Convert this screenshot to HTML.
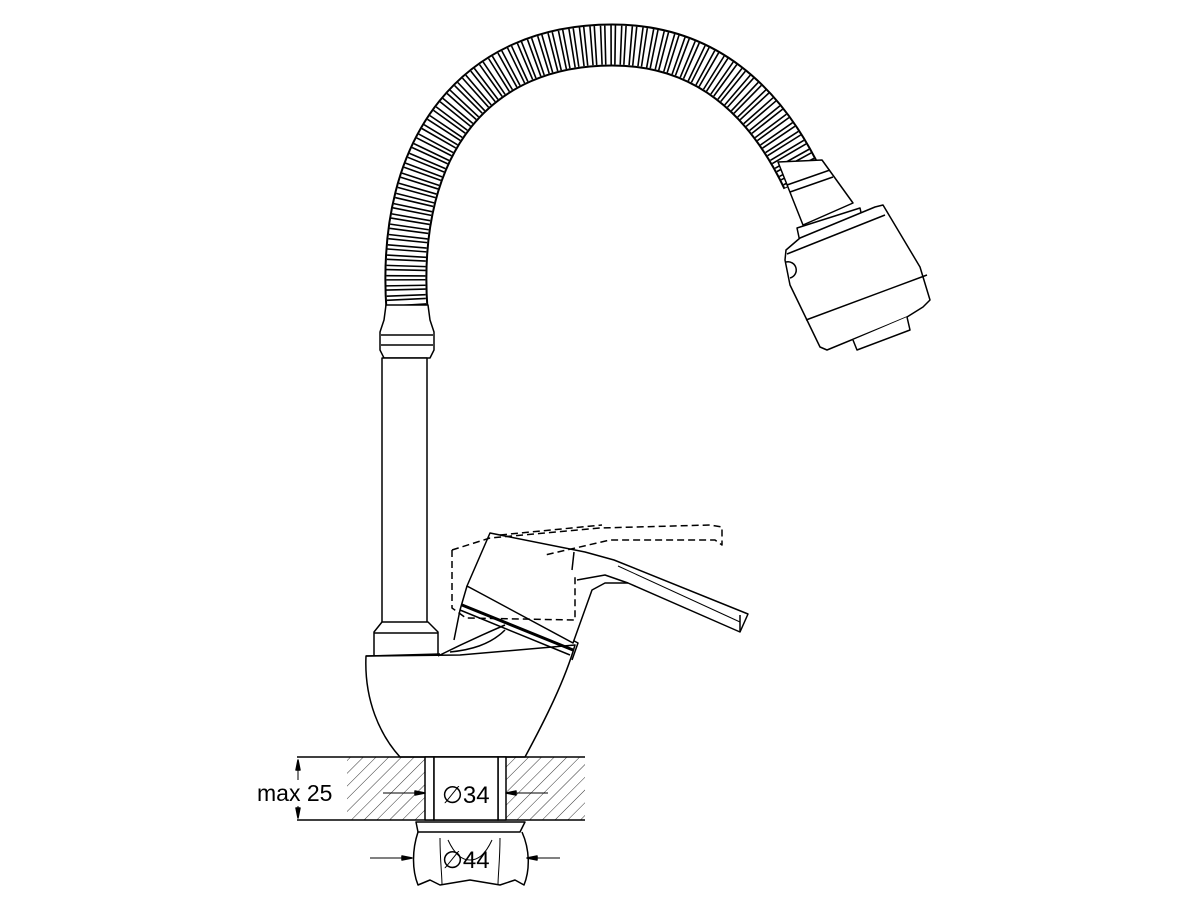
<!DOCTYPE html>
<html><head><meta charset="utf-8"><style>
html,body{margin:0;padding:0;background:#fff;width:1200px;height:900px;overflow:hidden}
svg{display:block}
text{font-family:"Liberation Sans",sans-serif;fill:#000}
</style></head><body>
<svg width="1200" height="900" viewBox="0 0 1200 900" xmlns="http://www.w3.org/2000/svg">
<defs>
<pattern id="hatch" patternUnits="userSpaceOnUse" width="9" height="9" patternTransform="rotate(45)">
<line x1="0" y1="0" x2="0" y2="9" stroke="#000" stroke-width="0.8"/>
</pattern>
</defs>
<g fill="none" stroke="#000" stroke-width="1.5" stroke-linejoin="round">
<path d="M407,310 C395,140 480,45 612,45 C705,45 765,100 803,180" stroke-width="43"/>
<path d="M407,310 C395,140 480,45 612,45 C705,45 765,100 803,180" stroke="#fff" stroke-width="39"/>
<path d="M407,310 C395,140 480,45 612,45 C705,45 765,100 803,180" stroke-width="39" stroke-dasharray="1.6 2.4 1.6 4.2"/>
<path d="M386,305 L428,305 L430,320 L434,332 L434,350 L430,358 L384,358 L380,350 L380,332 L384,320 Z" fill="#fff"/>
<line x1="381" y1="335" x2="433" y2="335"/><line x1="381" y1="345" x2="433" y2="345"/>
<rect x="382" y="358" width="45" height="265" fill="#fff"/>
<path d="M382,622 L374,632 L374,656 L438,656 L438,632 L428,622 Z" fill="#fff"/>
<line x1="374" y1="633" x2="438" y2="633"/>
<path d="M366,656 C364,700 380,735 400,757 L525,757 C545,720 565,680 575,645 L460,655 Z" fill="#fff"/>
<path d="M438,656 C450,650 470,640 505,625" />
<path d="M450,652 C470,650 490,645 505,630"/>
<path d="M366,656 L440,654"/>
<path d="M467,586 L460,610 L454,640 M467,586 L578,643 L572,660 M460,610 L570,655" />
<path d="M462,605 L573,650" stroke-width="3"/>
<path d="M490,533 L467,586 L573,643 L592,590 L605,583 L628,583 L740,632 L748,614 L614,560 L585,552 Z" fill="#fff"/>
<path d="M577,580 L605,575 L628,583"/>
<path d="M574,552 L572,570"/>
<path d="M618,566 L740,622" stroke-width="1"/>
<line x1="740" y1="615" x2="740" y2="632"/>
<g stroke-dasharray="7 4">
<path d="M452,550 L452,608 L466,618 L575,620 L575,575"/>
<path d="M452,550 L490,538 L600,528 L710,525 L722,527 L722,545 L715,540 L610,540 L545,555"/>
<path d="M500,535 L602,525"/>
</g>
<path d="M778,162 L803,225 L853,203 L822,160 Z" fill="#fff"/>
<line x1="787" y1="185" x2="830" y2="170"/><line x1="790" y1="192" x2="833" y2="177"/>
<path d="M797,228 L800,242 L862,217 L860,208 Z" fill="#fff"/>
<path d="M785,260 L786,250 L800,238 L875,207 L883,205 L920,267 L930,300 L923,307 L907,317 L827,350 L820,347 L790,285 Z" fill="#fff"/>
<path d="M787,254 L885,215"/>
<path d="M806,320 L927,275"/>
<path d="M786,262 A8,8 0 0 1 790,278"/>
<path d="M853,340 L857,350 L910,330 L907,317" fill="#fff"/>
<rect x="347" y="757" width="78" height="63" fill="url(#hatch)" stroke="none"/>
<rect x="506" y="757" width="79" height="63" fill="url(#hatch)" stroke="none"/>
<line x1="297" y1="757" x2="585" y2="757"/>
<line x1="297" y1="820" x2="585" y2="820"/>
<rect x="425" y="757" width="9" height="63" fill="#fff"/>
<rect x="498" y="757" width="8" height="63" fill="#fff"/>
<rect x="434" y="757" width="64" height="63" fill="#fff"/>
<line x1="298" y1="760" x2="298" y2="818" stroke-width="1"/>
<path d="M298,760 l-2,10 h4 Z M298,818 l-2,-10 h4 Z" fill="#000"/>
<line x1="383" y1="793" x2="425" y2="793" stroke-width="1"/>
<path d="M425,793 l-10,-2 v4 Z" fill="#000"/>
<line x1="506" y1="793" x2="548" y2="793" stroke-width="1"/>
<path d="M506,793 l10,-2 v4 Z" fill="#000"/>
<path d="M416,822 L525,822 L520,832 L418,832 Z" fill="#fff"/>
<path d="M418,832 C412,850 412,870 418,885 L430,880 L440,885 L470,880 L500,885 L515,880 L524,885 C530,870 530,850 522,832"/>
<path d="M440,838 C440,860 442,875 442,885 M500,838 C500,860 498,875 498,885 M448,840 C455,855 462,860 470,860 C478,860 485,855 492,840" stroke-width="1"/>
<line x1="370" y1="858" x2="412" y2="858" stroke-width="1"/>
<path d="M412,858 l-10,-2 v4 Z" fill="#000"/>
<line x1="527" y1="858" x2="560" y2="858" stroke-width="1"/>
<path d="M527,858 l10,-2 v4 Z" fill="#000"/>
</g>
<rect x="255" y="780" width="85" height="26" fill="#fff"/>
<text x="257" y="801" font-size="23">max 25</text>
<text x="442" y="803" font-size="24">∅34</text>
<text x="442" y="868" font-size="24">∅44</text>
</svg>
</body></html>
